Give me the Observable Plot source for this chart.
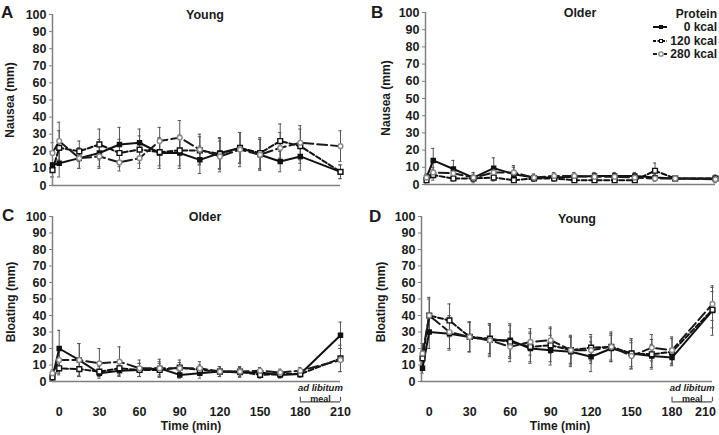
<!DOCTYPE html>
<html>
<head>
<meta charset="utf-8">
<script src="https://cdn.jsdelivr.net/npm/d3@7"></script>
<script src="https://cdn.jsdelivr.net/npm/@observablehq/plot@0.6"></script>
<style>
  html, body { margin: 0; padding: 0; background: #fff; }
  #root { position: relative; width: 719px; height: 435px; overflow: hidden; font-family: "Liberation Sans", Arial, Helvetica, sans-serif; color: #1a1a1a; }
  .abs { position: absolute; line-height: 1; white-space: nowrap; font-weight: bold; font-family: "Liberation Sans", Arial, Helvetica, sans-serif; }
  .pane { position: absolute; }
</style>
</head>
<body>
<div id="root"></div>
<script>
// ---------- data ----------
const times = [-5, 0, 15, 30, 45, 60, 75, 90, 105, 120, 135, 150, 165, 180, 210];
const seriesNames = ["0 kcal", "120 kcal", "280 kcal"];
const xTicks = [0, 30, 60, 90, 120, 150, 180, 210];
const yTicks = [0, 10, 20, 30, 40, 50, 60, 70, 80, 90, 100];
const mealWindow = [180, 210];

// Panel A: Nausea, Young
const nauseaYoung0   = [12, 13, 16, 19, 24, 25, 19, 19, 15, 19, 22, 18, 14, 17, 8];
const nauseaYoung120 = [9, 22, 20, 24, 19, 21, 19.5, 20.5, 20.5, 18.5, 22, 19, 26, 23, 8];
const nauseaYoung280 = [19, 26, 16, 17, 13.5, 16, 26, 28, 21, 17, 21, 18, 22, 25, 23];
const nauseaYoungErr0   = [7, 8, 6, 8, 10, 8, 9, 9, 8, 9, 9, 9, 6, 8, 4];
const nauseaYoungErr120 = [4, 10, 6, 9, 8, 8, 8, 9, 8, 9, 9, 9, 10, 10, 4];
const nauseaYoungErr280 = [6, 11, 6, 7, 5, 6, 8, 10, 9, 9, 10, 9, 9, 10, 9];

// Panel B: Nausea, Older
const nauseaOlder0   = [4, 14, 9, 4, 9.5, 6, 4, 4, 4.5, 5, 5, 5, 4, 3.5, 3.5];
const nauseaOlder120 = [2.5, 5.5, 3.5, 3.5, 4, 2.5, 3.5, 3.5, 2.5, 2.5, 2.5, 2.5, 8, 3.5, 3.5];
const nauseaOlder280 = [4, 7, 6.5, 4, 7, 7, 4, 5, 5, 4.5, 4.5, 4, 3.5, 3.5, 3];
const nauseaOlderErr0   = [2, 7, 5, 3, 6, 4, 2, 2, 2, 2, 2, 2, 2, 1, 2];
const nauseaOlderErr120 = [1, 3, 1.5, 1.5, 2, 1, 1.5, 1.5, 1, 1, 1, 1, 4.5, 1, 1];
const nauseaOlderErr280 = [2, 3, 3, 2, 3, 4, 2, 2, 2, 2, 2, 2, 1.5, 1, 2];

// Panel C: Bloating, Older
const bloatOlder0   = [2.5, 20, 13, 5, 6.5, 7, 8, 4, 5, 6, 5.5, 5.5, 4, 4.5, 28];
const bloatOlder120 = [2.5, 8, 7.5, 6, 8, 7, 7, 8.5, 7, 6, 6, 4, 4.5, 4.5, 14];
const bloatOlder280 = [5, 13, 13, 11, 12, 8, 8, 8, 8, 6, 6, 6.5, 5.5, 6.5, 13];
const bloatOlderErr0   = [1.5, 11, 10, 2, 3, 4, 4, 2, 3, 3, 3, 2, 2, 1.5, 8];
const bloatOlderErr120 = [1.5, 4, 4, 3, 4, 4, 4, 3, 3, 3, 3, 2, 2, 2, 8];
const bloatOlderErr280 = [2, 8, 10, 9, 9, 5, 5.5, 5, 4, 3, 3, 2, 2, 2, 7];

// Panel D: Bloating, Young
const bloatYoung0   = [8, 30, 29, 27, 25, 25, 20, 19, 18, 15, 20, 17, 15.5, 14.5, 43];
const bloatYoung120 = [14, 40, 37, 27, 26, 24, 21, 22, 19, 20.5, 21, 17, 16.5, 18, 43.5];
const bloatYoung280 = [17, 40, 30, 27, 25, 21, 24, 25, 19, 19, 21, 15.5, 20.5, 19, 47];
const bloatYoungErr0   = [3, 10, 10, 9, 10, 10, 9, 9, 9, 9, 8, 8, 7, 5, 15];
const bloatYoungErr120 = [5, 11, 10, 9, 9, 10, 9, 10, 9, 8, 9, 9, 9, 8, 11];
const bloatYoungErr280 = [6, 10, 10, 9, 9, 9, 8, 8, 8, 8, 8, 8, 8, 8, 10];

// ---------- styles ----------
const FONT = '"Liberation Sans", Arial, Helvetica, sans-serif';
const seriesStyle = {
  "0 kcal":   {dash: null,     symbol: "square", fill: "#111", mstroke: "#111", r: 2.3, lstroke: "#111"},
  "120 kcal": {dash: "5,2.5",  symbol: "square", fill: "#fff", mstroke: "#111", r: 2.7, lstroke: "#111"},
  "280 kcal": {dash: "10,4",   symbol: "circle", fill: "#fff", mstroke: "#8a8a8a", r: 2.4, lstroke: "#1a1a1a"}
};

function rowsFor(vals, errs) {
  const out = [];
  seriesNames.forEach((s, k) => {
    times.forEach((t, i) => out.push({series: s, t, v: vals[k][i], e: errs[k][i]}));
  });
  return out;
}

function panel(cfg) {
  const rows = rowsFor(cfg.vals, cfg.errs);
  const marks = [];
  // error bars
  marks.push(Plot.ruleX(rows, {x: "t", y1: d => Math.max(0, d.v - d.e), y2: d => d.v + d.e, stroke: "#555", strokeWidth: 1}));
  marks.push(Plot.ruleY(rows, {y: d => d.v + d.e, x1: d => d.t - 1.2, x2: d => d.t + 1.2, stroke: "#555", strokeWidth: 1}));
  marks.push(Plot.ruleY(rows, {y: d => Math.max(0, d.v - d.e), x1: d => d.t - 1.2, x2: d => d.t + 1.2, stroke: "#555", strokeWidth: 1}));
  // axes lines
  marks.push(Plot.ruleX([times[0]], {y1: 0, y2: 100, stroke: "#808080", strokeWidth: 1.5, dx: cfg.axisDx || 0}));
  marks.push(Plot.ruleY([0], {x1: times[0] + (cfg.axisDx ? -1.5 : 0), x2: times[times.length - 1], stroke: "#808080", strokeWidth: 1.5}));
  marks.push(Plot.axisY({ticks: yTicks, tickSize: 3, tickPadding: 3, label: null, fontSize: 12.5, fontWeight: "bold", stroke: "#808080", dx: cfg.axisDx || 0}));
  if (cfg.xAxis) {
    const lastTick = xTicks[xTicks.length - 1];
    marks.push(Plot.axisX({ticks: xTicks.slice(0, -1), tickSize: 0, tickPadding: 26, label: null, fontSize: 12.5, fontWeight: "bold"}));
    marks.push(Plot.axisX({ticks: [lastTick], tickSize: 0, tickPadding: 26, label: null, fontSize: 12.5, fontWeight: "bold", dx: cfg.lastDx || 0}));
    // ad libitum meal bracket
    marks.push(Plot.ruleY([mealWindow], {y: -12.3, x1: d => d[0], x2: d => d[1], stroke: "#555", strokeWidth: 1.2}));
    marks.push(Plot.ruleX(mealWindow, {x: d => d, y1: -12.3, y2: -9.6, stroke: "#555", strokeWidth: 1.2}));
    marks.push(Plot.text(["ad libitum"], {x: d3.mean(mealWindow), y: -4.2, text: d => d, fontSize: 9.5, fontStyle: "italic", fontWeight: "bold", fill: "#1a1a1a"}));
    marks.push(Plot.text(["meal"], {x: d3.mean(mealWindow), y: -10.6, text: d => d, fontSize: 9, fontWeight: "bold", fill: "#1a1a1a"}));
  }
  // lines & markers
  seriesNames.forEach(s => {
    const st = seriesStyle[s];
    const data = rows.filter(d => d.series === s);
    marks.push(Plot.line(data, {x: "t", y: "v", stroke: st.lstroke, strokeWidth: 2, strokeDasharray: st.dash || undefined}));
  });
  seriesNames.forEach(s => {
    const st = seriesStyle[s];
    const data = rows.filter(d => d.series === s);
    marks.push(Plot.dot(data, {x: "t", y: "v", symbol: st.symbol, r: st.r, fill: st.fill, stroke: st.mstroke, strokeWidth: 1.4}));
  });
  return Plot.plot({
    width: cfg.width, height: cfg.height,
    marginLeft: cfg.ml, marginRight: cfg.mr, marginTop: cfg.mt, marginBottom: cfg.mb,
    x: {domain: [times[0], 210], axis: null},
    y: {domain: [0, 100], axis: null},
    style: {fontFamily: FONT, color: "#1a1a1a", background: "transparent", overflow: "visible"},
    marks
  });
}

const root = document.getElementById("root");
function place(node, left, top) {
  const w = document.createElement("div");
  w.className = "pane";
  w.style.left = left + "px"; w.style.top = top + "px";
  w.appendChild(node);
  root.appendChild(w);
}
function label(text, cx, cy, fs, opts = {}) {
  const d = document.createElement("div");
  d.className = "abs";
  d.textContent = text;
  d.style.fontSize = fs + "px";
  const top = cy - 0.49 * fs;
  d.style.top = top + "px";
  if (opts.align === "right") { d.style.right = (719 - cx) + "px"; }
  else if (opts.align === "left") { d.style.left = cx + "px"; }
  else { d.style.left = cx + "px"; d.style.transform = "translateX(-50%)"; }
  if (opts.rotate) {
    d.style.left = cx + "px";
    d.style.top = cy + "px";
    d.style.transform = "translate(-50%,-50%) rotate(-90deg)";
    d.style.lineHeight = "1.2";
  }
  root.appendChild(d);
  return d;
}

// ---------- panels ----------
place(panel({width: 360, height: 200, ml: 52, mr: 20, mt: 14, mb: 15,
  vals: [nauseaYoung0, nauseaYoung120, nauseaYoung280],
  errs: [nauseaYoungErr0, nauseaYoungErr120, nauseaYoungErr280]}), 0, 0);
place(panel({width: 359, height: 200, ml: 66, mr: 4, mt: 12, mb: 16, axisDx: -1,
  vals: [nauseaOlder0, nauseaOlder120, nauseaOlder280],
  errs: [nauseaOlderErr0, nauseaOlderErr120, nauseaOlderErr280]}), 360, 0);
place(panel({width: 360, height: 235, ml: 52, mr: 20, mt: 16, mb: 54, xAxis: true,
  vals: [bloatOlder0, bloatOlder120, bloatOlder280],
  errs: [bloatOlderErr0, bloatOlderErr120, bloatOlderErr280]}), 0, 200);
place(panel({width: 359, height: 235, ml: 62, mr: 7, mt: 16, mb: 54, xAxis: true, axisDx: -1, lastDx: -7,
  vals: [bloatYoung0, bloatYoung120, bloatYoung280],
  errs: [bloatYoungErr0, bloatYoungErr120, bloatYoungErr280]}), 360, 200);

// ---------- texts ----------
label("A", 1, 12.5, 17, {align: "left"});
label("B", 371, 12, 17, {align: "left"});
label("C", 2, 215, 17, {align: "left"});
label("D", 369, 216, 17, {align: "left"});
label("Young", 205, 15.5, 12.5);
label("Older", 580, 13.3, 12.5);
label("Older", 205, 217.5, 12.5);
label("Young", 577, 218.7, 12.5);
label("Nausea (mm)", 9.5, 99.5, 12, {rotate: true});
label("Nausea (mm)", 386, 97.5, 12, {rotate: true});
label("Bloating (mm)", 11, 302, 12, {rotate: true});
label("Bloating (mm)", 381, 302, 12, {rotate: true});
label("Time (min)", 191, 425.5, 12);
label("Time (min)", 560, 425.5, 12);

// ---------- legend ----------
label("Protein", 717, 13.5, 12, {align: "right"});
const legendY = [26.7, 40.5, 53.7];
seriesNames.forEach((s, i) => {
  label(s, 717, legendY[i], 12, {align: "right"});
  const st = seriesStyle[s];
  const svg = d3.create("svg").attr("width", 16).attr("height", 8)
    .style("position", "absolute").style("left", "652px").style("top", (legendY[i] - 4) + "px");
  svg.append("line").attr("x1", 1).attr("x2", 15).attr("y1", 4).attr("y2", 4)
    .attr("stroke", st.lstroke).attr("stroke-width", 2).attr("stroke-dasharray", st.dash ? (i === 1 ? "3,1.5" : "4,1.5") : null);
  if (st.symbol === "circle") svg.append("circle").attr("cx", 9).attr("cy", 4).attr("r", 2.2).attr("fill", "#fff").attr("stroke", st.mstroke).attr("stroke-width", 1.3);
  else svg.append("rect").attr("x", 7.5).attr("y", 2.5).attr("width", 3).attr("height", 3).attr("fill", st.fill).attr("stroke", st.mstroke).attr("stroke-width", 1);
  root.appendChild(svg.node());
});
</script>
</body>
</html>
